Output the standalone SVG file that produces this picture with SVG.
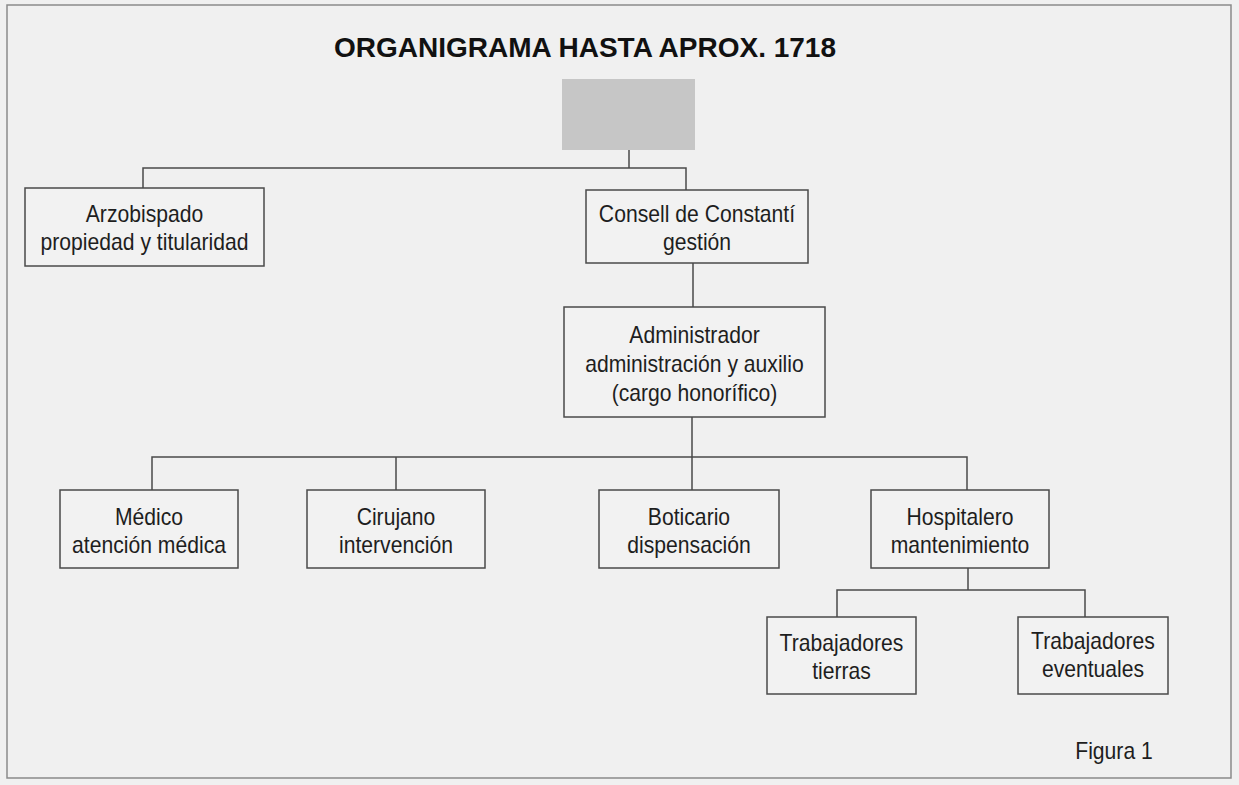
<svg xmlns="http://www.w3.org/2000/svg" width="1239" height="785" viewBox="0 0 1239 785">
  <style>
    .bg { fill: #f0f0f0; }
    .frame { fill: none; stroke: #8a8a8a; stroke-width: 1.5; }
    .box { fill: #f2f2f2; stroke: #4a4a4a; stroke-width: 1.5; }
    .shade { fill: #c6c6c6; }
    .conn line, .conn polyline { fill: none; stroke: #4a4a4a; stroke-width: 1.5; }
    .t { font-family: "Liberation Sans", Arial, sans-serif; font-size: 23px; fill: #1e1e1e; text-anchor: middle; }
    .title { font-family: "Liberation Sans", Arial, sans-serif; font-size: 28px; font-weight: bold; fill: #111; text-anchor: start; }
  </style>
  <rect class="bg" x="0" y="0" width="1239" height="785"/>
  <rect class="frame" x="7" y="5" width="1224" height="773"/>

  <text class="title" x="334" y="57">ORGANIGRAMA HASTA APROX. 1718</text>

  <g id="connectors" class="conn">
    <line x1="629" y1="150" x2="629" y2="168"/>
    <polyline points="143,188 143,168 686,168 686,190"/>
    <line x1="693" y1="263" x2="693" y2="307"/>
    <line x1="692" y1="417" x2="692" y2="490"/>
    <polyline points="152,490 152,457 967,457 967,490"/>
    <line x1="396" y1="457" x2="396" y2="490"/>
    <line x1="968" y1="568" x2="968" y2="590"/>
    <polyline points="837,617 837,590 1085,590 1085,617"/>
  </g>

  <g id="node-top">
    <rect class="shade" x="562" y="79" width="133" height="71"/>
  </g>

  <g id="node-arzobispado">
    <rect class="box" x="25" y="188" width="239" height="78"/>
    <text class="t" transform="translate(144.5 222) scale(0.92 1)">Arzobispado</text>
    <text class="t" transform="translate(144.5 250) scale(0.92 1)">propiedad y titularidad</text>
  </g>

  <g id="node-consell">
    <rect class="box" x="586" y="190" width="222" height="73"/>
    <text class="t" transform="translate(697 222) scale(0.92 1)">Consell de Constantí</text>
    <text class="t" transform="translate(697 250) scale(0.92 1)">gestión</text>
  </g>

  <g id="node-administrador">
    <rect class="box" x="564" y="307" width="261" height="110"/>
    <text class="t" transform="translate(694.5 343) scale(0.92 1)">Administrador</text>
    <text class="t" transform="translate(694.5 372) scale(0.92 1)">administración y auxilio</text>
    <text class="t" transform="translate(694.5 401) scale(0.92 1)">(cargo honorífico)</text>
  </g>

  <g id="node-medico">
    <rect class="box" x="60" y="490" width="178" height="78"/>
    <text class="t" transform="translate(149 525) scale(0.92 1)">Médico</text>
    <text class="t" transform="translate(149 553) scale(0.92 1)">atención médica</text>
  </g>

  <g id="node-cirujano">
    <rect class="box" x="307" y="490" width="178" height="78"/>
    <text class="t" transform="translate(396 525) scale(0.92 1)">Cirujano</text>
    <text class="t" transform="translate(396 553) scale(0.92 1)">intervención</text>
  </g>

  <g id="node-boticario">
    <rect class="box" x="599" y="490" width="180" height="78"/>
    <text class="t" transform="translate(689 525) scale(0.92 1)">Boticario</text>
    <text class="t" transform="translate(689 553) scale(0.92 1)">dispensación</text>
  </g>

  <g id="node-hospitalero">
    <rect class="box" x="871" y="490" width="178" height="78"/>
    <text class="t" transform="translate(960 525) scale(0.92 1)">Hospitalero</text>
    <text class="t" transform="translate(960 553) scale(0.92 1)">mantenimiento</text>
  </g>

  <g id="node-trab-tierras">
    <rect class="box" x="767" y="617" width="149" height="77"/>
    <text class="t" transform="translate(841.5 651) scale(0.92 1)">Trabajadores</text>
    <text class="t" transform="translate(841.5 679) scale(0.92 1)">tierras</text>
  </g>

  <g id="node-trab-eventuales">
    <rect class="box" x="1018" y="617" width="150" height="77"/>
    <text class="t" transform="translate(1093 649) scale(0.92 1)">Trabajadores</text>
    <text class="t" transform="translate(1093 677) scale(0.92 1)">eventuales</text>
  </g>

  <text class="t" transform="translate(1114 759) scale(0.92 1)">Figura 1</text>
</svg>
